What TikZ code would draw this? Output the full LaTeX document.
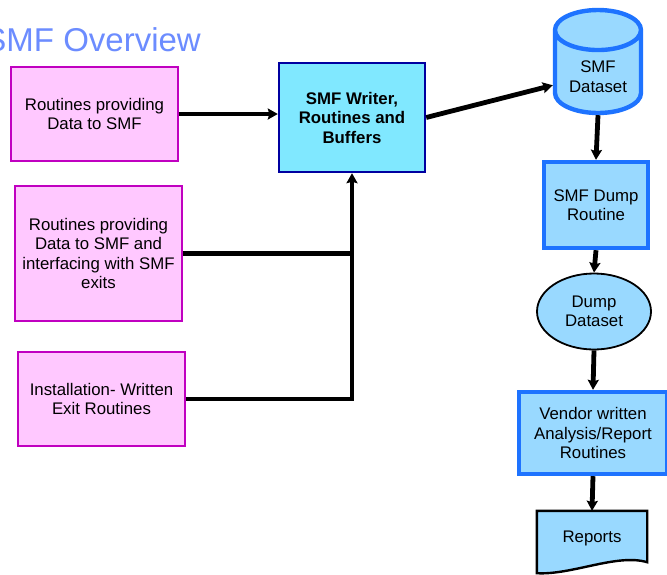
\documentclass[tikz,border=0pt]{standalone}
\usepackage{fontspec}
\setmainfont{Liberation Sans}
\usetikzlibrary{arrows.meta, shapes.geometric, calc, backgrounds}

\definecolor{pinkfill}{RGB}{255,200,255}
\definecolor{pinkline}{RGB}{192,0,192}
\definecolor{writerfill}{RGB}{128,232,255}
\definecolor{writerline}{RGB}{0,0,160}
\definecolor{dsfill}{RGB}{153,217,255}
\definecolor{dsline}{RGB}{30,115,255}
\definecolor{titleblue}{RGB}{108,140,255}

\begin{document}
\begin{tikzpicture}[x=1pt, y=-1pt,
  font=\fontsize{16.8}{19.5}\selectfont,
  srcbox/.style={draw=pinkline, fill=pinkfill, line width=1.8pt, align=center, minimum width=167pt},
  bluebox/.style={draw=dsline, fill=dsfill, line width=4.4pt, align=center},
  flow/.style={line width=4.8pt, -{Stealth[length=10pt, width=11pt, inset=1.5pt]}},
  bus/.style={line width=4.8pt}]
  \useasboundingbox (0,0) rectangle (667,574);
  % title
  \node[anchor=base east, inner sep=0pt, text=titleblue, font=\fontsize{33}{40}\selectfont] (title) at (201,51) {SMF Overview};
  % sources on the left
  \node[srcbox, minimum height=94pt] (prov) at (94.5,114) {Routines providing\\Data to SMF};
  \node[srcbox, minimum height=135pt] (exits) at (98.5,253.5) {Routines providing\\Data to SMF and\\interfacing with SMF\\exits};
  \node[srcbox, minimum height=94pt] (inst) at (101.5,399) {Installation- Written\\Exit Routines};
  % writer
  \node[draw=writerline, fill=writerfill, line width=2.4pt, align=center, minimum width=146pt, minimum height=109pt, font=\fontsize{16.8}{19.5}\selectfont\bfseries] (writer) at (352,117.5) {SMF Writer,\\Routines and\\Buffers};
  % right column
  \node[bluebox, cylinder, shape border rotate=90, aspect=0.62, anchor=shape center, minimum width=86pt, minimum height=103pt] (dataset) at (598,61.5) {SMF\\Dataset};
  \node[bluebox, minimum width=104pt, minimum height=86pt] (dump) at (596,205) {SMF Dump\\Routine};
  \node[ellipse, draw, fill=dsfill, line width=1.8pt, align=center, minimum width=114pt, minimum height=76pt] (dumpds) at (594,311.5) {Dump\\Dataset};
  \node[bluebox, minimum width=148pt, minimum height=82pt] (vendor) at (593,433) {Vendor written\\Analysis/Report\\Routines};
  \node[minimum width=110pt, minimum height=54pt] (reports) at (592,538) {Reports};
  \begin{scope}[on background layer]
    \draw[fill=dsfill, line width=2.4pt] (reports.north west) -- (reports.north east) -- ($(reports.south east)+(0,-3)$)
      .. controls ($(reports.south)+(25,-12)$) and ($(reports.south)+(-20,10)$) .. ($(reports.south west)+(0,8)$) -- cycle;
  \end{scope}
  % connectors
  \draw[flow] (prov.east) -- (prov.east -| writer.west);
  \draw[bus] (exits.east) -- (exits.east -| writer.south);
  \draw[flow] (inst.east) -| (writer.south);
  \draw[flow] (writer.east) -- (dataset.191);
  \draw[flow] (dataset.south) -- (dump.north);
  \draw[flow] (dump.south) -- (dumpds.north);
  \draw[flow] (dumpds.south) -- (vendor.north);
  \draw[flow] (vendor.south) -- (reports.north);
\end{tikzpicture}
\end{document}
